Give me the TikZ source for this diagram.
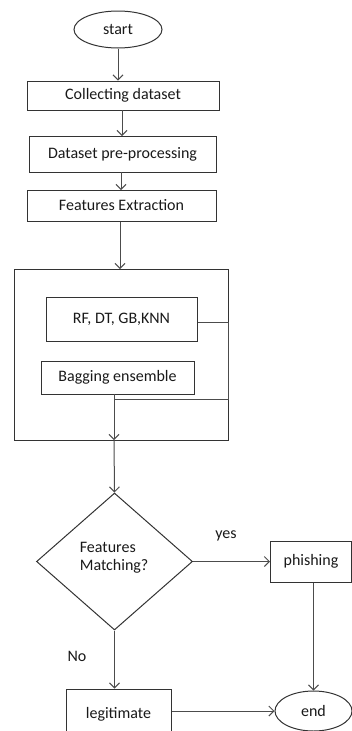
\documentclass[tikz,border=0pt]{standalone}
\usepackage{fontspec}
\setmainfont{Carlito}
\usetikzlibrary{arrows.meta,shapes.geometric}
\begin{document}
\begin{tikzpicture}[x=1pt,y=-1pt,
  line width=1pt,
  every node/.style={font=\fontsize{16}{18}\selectfont, text=black!90},
  box/.style={draw=black!80, rectangle, inner sep=0pt},
  oval/.style={draw=black!80, ellipse, inner sep=0pt},
  arr/.style={draw=black!70, -{Straight Barb[length=5pt,width=10pt]}},
  ln/.style={draw=black!70}]
\clip (0,0) rectangle (352,731);
\useasboundingbox (0,0) rectangle (352,731);
\node[oval, minimum width=88pt, minimum height=37pt] (start) at (118,29.5) {start};
\node[box, minimum width=192pt, minimum height=29pt] (collect) at (123,95.5) {Collecting dataset};
\node[box, minimum width=187pt, minimum height=36pt] (prep) at (122.5,154) {Dataset pre-processing};
\node[box, minimum width=189pt, minimum height=31pt] (feat) at (121.5,205.5) {Features Extraction};
\node[box, minimum width=214pt, minimum height=171pt] (big) at (121,354.5) {};
\node[box, minimum width=151pt, minimum height=44pt] (rf) at (121.5,319) {RF, DT, GB,KNN};
\node[box, minimum width=153pt, minimum height=33pt] (bag) at (117.5,377.5) {Bagging ensemble};
\node[draw=black!80, diamond, aspect=1.139, minimum width=156pt, minimum height=137pt, inner sep=0pt] (dec) at (114.5,561.5) {};
\node[align=left, anchor=west] (dectext) at (76,558) {Features\\Matching?};
\node[box, minimum width=81pt, minimum height=41pt] (phish) at (311,561.5) {phishing};
\node[box, minimum width=105pt, minimum height=50pt] (legit) at (118.5,714) {legitimate};
\node[oval, minimum width=77pt, minimum height=40pt] (end) at (313.5,711) {end};
\node (yes) at (226,536) {yes};
\node (no) at (77,656) {No};
\coordinate (c1) at (228,322);
\coordinate (c2) at (228,399);
\coordinate (c3) at (114,399);
\coordinate (c4) at (114,440);
\coordinate (c5) at (114,394);
\draw[arr] (start.south) -- (start.south |- collect.north);
\draw[arr] (122,110) -- (122,136);
\draw[arr] (121,172) -- (121,190);
\draw[arr] (feat.south -| 120,0) -- (120,269);
\draw[ln] (rf.east |- c1) -- (c1) -- (c2) -- (c3);
\draw[arr] (c5) -- (c4);
\draw[arr] (c4) -- (dec.north);
\draw[arr] (dec.east) -- (phish.west);
\draw[arr] (dec.south) -- (dec.south |- legit.north);
\draw[arr] (phish.south -| end.north) -- (end.north);
\draw[arr] (legit.east |- end.west) -- (end.west);
\end{tikzpicture}
\end{document}
